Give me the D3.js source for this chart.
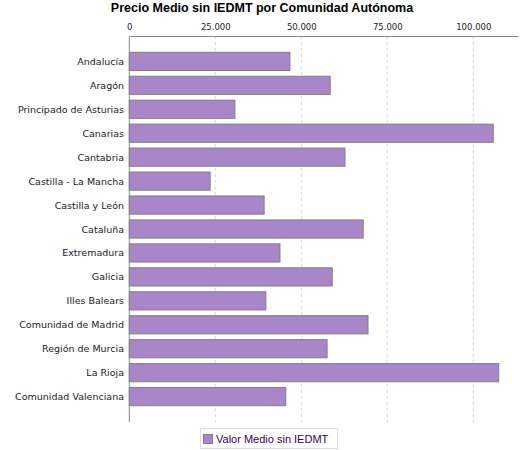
<!DOCTYPE html><html><head><meta charset="utf-8"><script src="https://cdn.jsdelivr.net/npm/d3@7"></script>
<style>body{margin:0;background:#fff}</style></head><body><svg id="c" width="525" height="450"></svg>
<script>
const categories=["Andalucía","Aragón","Principado de Asturias","Canarias","Cantabria","Castilla - La Mancha","Castilla y León","Cataluña","Extremadura","Galicia","Illes Balears","Comunidad de Madrid","Región de Murcia","La Rioja","Comunidad Valenciana"];
const values=[46700,58400,30700,105800,62700,23500,39200,68000,43800,59000,39700,69400,57500,107400,45500];
const ticks=[0,25000,50000,75000,100000];
const tickLabels=["0","25.000","50.000","75.000","100.000"];
const svg=d3.select("#c");
const x=d3.scaleLinear().domain([0,113000]).range([129.3,518]);
const y=d3.scaleBand().domain(categories).range([36,422]).paddingInner(0.24).paddingOuter(0.68);
svg.append("text").attr("x",262).attr("y",12).attr("text-anchor","middle").attr("font-family","Liberation Sans, Arial").attr("font-weight","bold").attr("font-size",12.5).text("Precio Medio sin IEDMT por Comunidad Autónoma");
svg.selectAll(".g").data(ticks.slice(1)).join("line").attr("x1",d=>x(d)).attr("x2",d=>x(d)).attr("y1",36).attr("y2",422).attr("stroke","#d8d8d8").attr("stroke-dasharray","3,3");
const ax=svg.append("g").attr("transform","translate(0,36)").call(d3.axisTop(x).tickValues(ticks).tickFormat((d,i)=>tickLabels[i]).tickSize(0).tickPadding(6));
ax.select(".domain").attr("stroke","#888");
ax.selectAll("text").attr("font-family","DejaVu Sans").attr("font-size",8.5).attr("fill","#222");
svg.append("line").attr("x1",129.3).attr("x2",129.3).attr("y1",36).attr("y2",422).attr("stroke","#888");
svg.selectAll(".b").data(categories).join("rect").attr("x",x(0)).attr("y",d=>y(d)).attr("height",y.bandwidth()).attr("width",(d,i)=>x(values[i])-x(0)).attr("fill","#a886c8").attr("stroke","#808080");
svg.selectAll(".l").data(categories).join("text").attr("x",124).attr("y",d=>y(d)+y.bandwidth()/2+3.5).attr("text-anchor","end").attr("font-family","DejaVu Sans").attr("font-size",9.5).attr("fill","#222").text(d=>d);
const lg=svg.append("g");
lg.append("rect").attr("x",200.5).attr("y",428.5).attr("width",137).attr("height",20).attr("fill","#fff").attr("stroke","#ddd");
lg.append("rect").attr("x",203.5).attr("y",434.5).attr("width",9).attr("height",9).attr("fill","#a886c8").attr("stroke","#808080");
lg.append("text").attr("x",216).attr("y",443).attr("font-family","Liberation Sans, Arial").attr("font-size",11).attr("fill","#330066").text("Valor Medio sin IEDMT");
</script></body></html>
